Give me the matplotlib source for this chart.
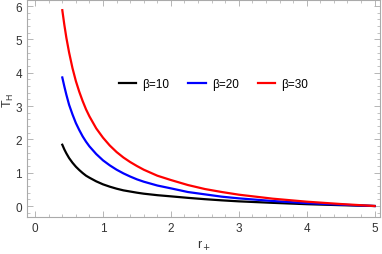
import matplotlib
matplotlib.use("Agg")
import matplotlib.pyplot as plt
from matplotlib.ticker import MultipleLocator

r_vals = [0.40, 0.43, 0.46, 0.50, 0.55, 0.60, 0.65, 0.70, 0.75, 0.80, 0.90, 1.00, 1.10, 1.20, 1.30,
          1.40, 1.50, 1.60, 1.80, 2.00, 2.25, 2.50, 2.75, 3.00, 3.50, 4.00, 4.50, 5.00]
T_beta10 = [1.84, 1.70, 1.58, 1.44, 1.30, 1.18, 1.08, 0.99, 0.91, 0.85, 0.74, 0.65, 0.58, 0.52, 0.47,
            0.435, 0.40, 0.37, 0.325, 0.29, 0.245, 0.205, 0.17, 0.14, 0.095, 0.055, 0.025, 0.0]
T_beta20 = [3.86, 3.59, 3.34, 3.04, 2.75, 2.49, 2.28, 2.09, 1.93, 1.79, 1.56, 1.37, 1.22, 1.09, 0.98,
            0.885, 0.80, 0.73, 0.615, 0.53, 0.42, 0.35, 0.28, 0.23, 0.15, 0.087, 0.04, 0.0]
T_beta30 = [5.88, 5.44, 5.05, 4.61, 4.14, 3.75, 3.43, 3.15, 2.90, 2.69, 2.33, 2.05, 1.815, 1.62, 1.457,
            1.32, 1.20, 1.09, 0.91, 0.78, 0.63, 0.51, 0.42, 0.34, 0.22, 0.13, 0.06, 0.0]
labels = ["β=10", "β=20", "β=30"]
colors = ["black", "blue", "red"]

plt.rcParams['font.family'] = ['Liberation Sans', 'DejaVu Sans']
fig = plt.figure(figsize=(3.82, 2.55), dpi=100)
ax = fig.add_axes([27/382, 1 - 218/255, (380-27)/382, 218/255 - 0.002])

for T, lab, c in zip([T_beta10, T_beta20, T_beta30], labels, colors):
    ax.plot(r_vals, T, color=c, lw=1.6, label=lab, solid_joinstyle='round')

ax.set_xlim(-0.12, 5.08)
ax.set_ylim(-0.33, 6.2)
ax.xaxis.set_major_locator(MultipleLocator(1))
ax.xaxis.set_minor_locator(MultipleLocator(0.2))
ax.yaxis.set_major_locator(MultipleLocator(1))
ax.yaxis.set_minor_locator(MultipleLocator(0.2))
ax.tick_params(which='both', direction='in', colors='#aaaaaa', labelcolor='#333333', labelsize=8.5,
               top=True, right=True, labeltop=False, labelright=False)
ax.tick_params(which='major', length=4, width=0.6)
ax.tick_params(which='minor', length=2, width=0.5)
for s in ax.spines.values():
    s.set_color('#aaaaaa')
    s.set_linewidth(0.8)

fig.text(204/382, 1 - 246/255, "r$_+$", fontsize=9, color='#333333', ha='center', va='center')
fig.text(8.5/382, 1 - 100/255, "T$_\\mathregular{H}$", fontsize=9, color='#333333', ha='center', va='center',
         rotation=90)

ax.legend(loc='center', bbox_to_anchor=(0.528, 0.612), ncol=3, frameon=False, fontsize=8.5,
          handlelength=1.5, columnspacing=1.6, handletextpad=0.5)

fig.savefig("out.png", dpi=100)
